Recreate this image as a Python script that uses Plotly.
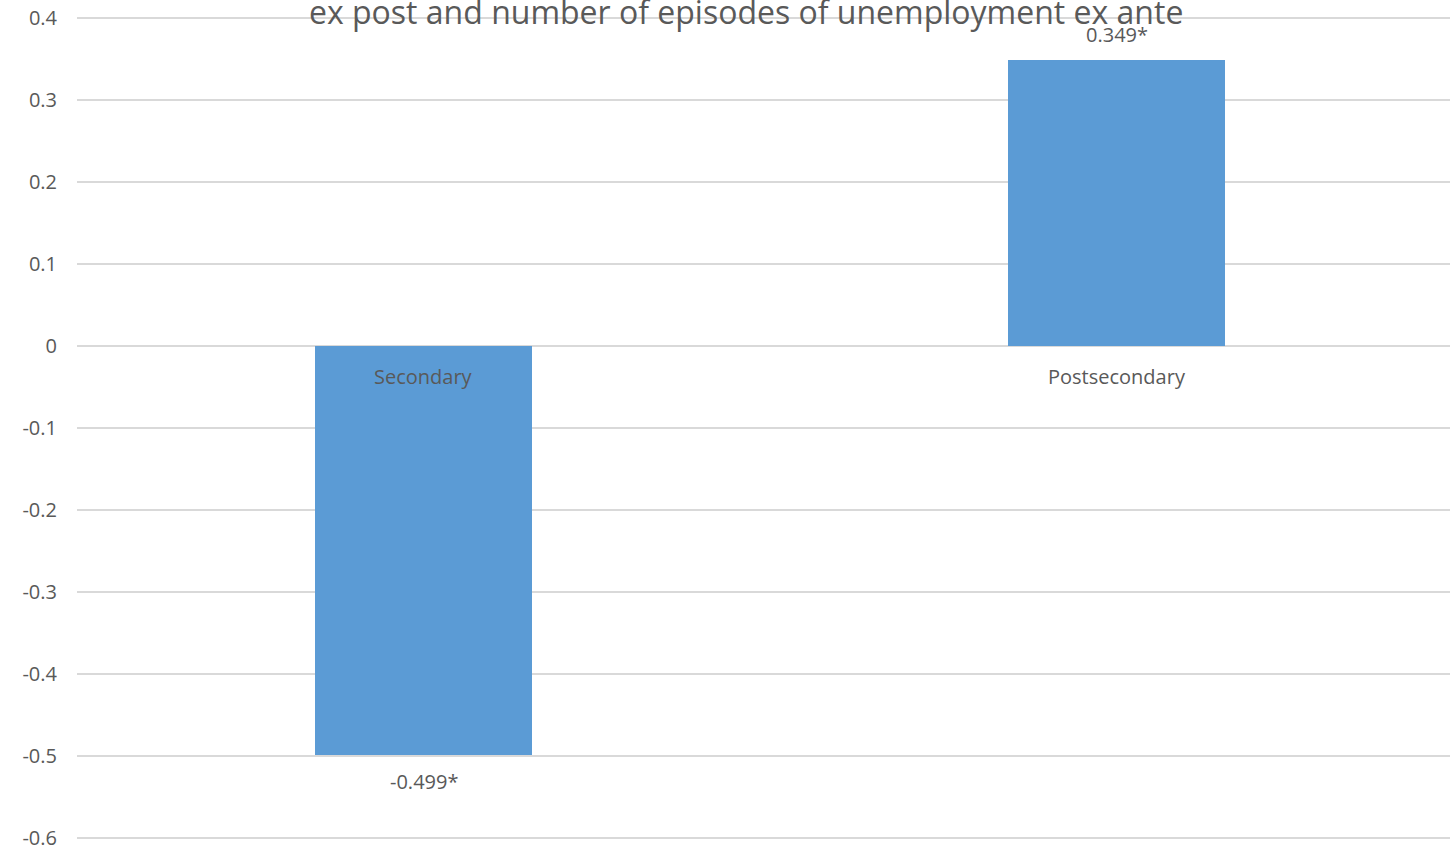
import plotly.graph_objects as go

categories = ["Secondary", "Postsecondary"]
values = [-0.499, 0.349]
value_labels = ["-0.499*", "0.349*"]
tick_vals = [0.4, 0.3, 0.2, 0.1, 0, -0.1, -0.2, -0.3, -0.4, -0.5, -0.6]
tick_text = ["0.4", "0.3", "0.2", "0.1", "0", "-0.1", "-0.2", "-0.3", "-0.4", "-0.5", "-0.6"]
title_line = "ex post and number of episodes of unemployment ex ante"

FONT = "Open Sans"
TXT = "#595959"

fig = go.Figure()
fig.add_trace(go.Bar(
    x=list(range(len(categories))), y=values,
    width=0.313,
    marker=dict(color="#5B9BD5", line=dict(width=0)),
))

for i, c in enumerate(categories):
    fig.add_annotation(x=i, y=0, xref="x", yref="y", text=c, showarrow=False,
                       yanchor="middle", yshift=-30,
                       font=dict(family=FONT, size=20, color=TXT))
    v = values[i]
    fig.add_annotation(x=i, y=v, xref="x", yref="y", text=value_labels[i],
                       showarrow=False, yanchor="middle",
                       yshift=26 if v >= 0 else -27,
                       font=dict(family=FONT, size=20, color=TXT))

fig.add_annotation(x=0.5, xref="x", y=0.4, yref="y", text=title_line,
                   showarrow=False, yanchor="middle", yshift=7, xshift=-24,
                   font=dict(family=FONT, size=32, color=TXT))

fig.update_layout(
    width=1450, height=850,
    margin=dict(l=77, r=0, t=15.5, b=9.5),
    plot_bgcolor="white", paper_bgcolor="white",
    showlegend=False,
    bargap=0,
    xaxis=dict(range=[-0.5, 1.481], showticklabels=False, showgrid=False,
               zeroline=False, showline=False),
    yaxis=dict(range=[-0.603, 0.403], tickvals=tick_vals, ticktext=tick_text,
               showgrid=True, gridcolor="#D9D9D9", gridwidth=1.5,
               zeroline=True, zerolinecolor="#D9D9D9", zerolinewidth=1.5,
               showline=False, ticklabelstandoff=19, ticklabeloverflow="allow",
               tickfont=dict(family=FONT, size=20, color=TXT)),
)

fig.write_html("out.html")
